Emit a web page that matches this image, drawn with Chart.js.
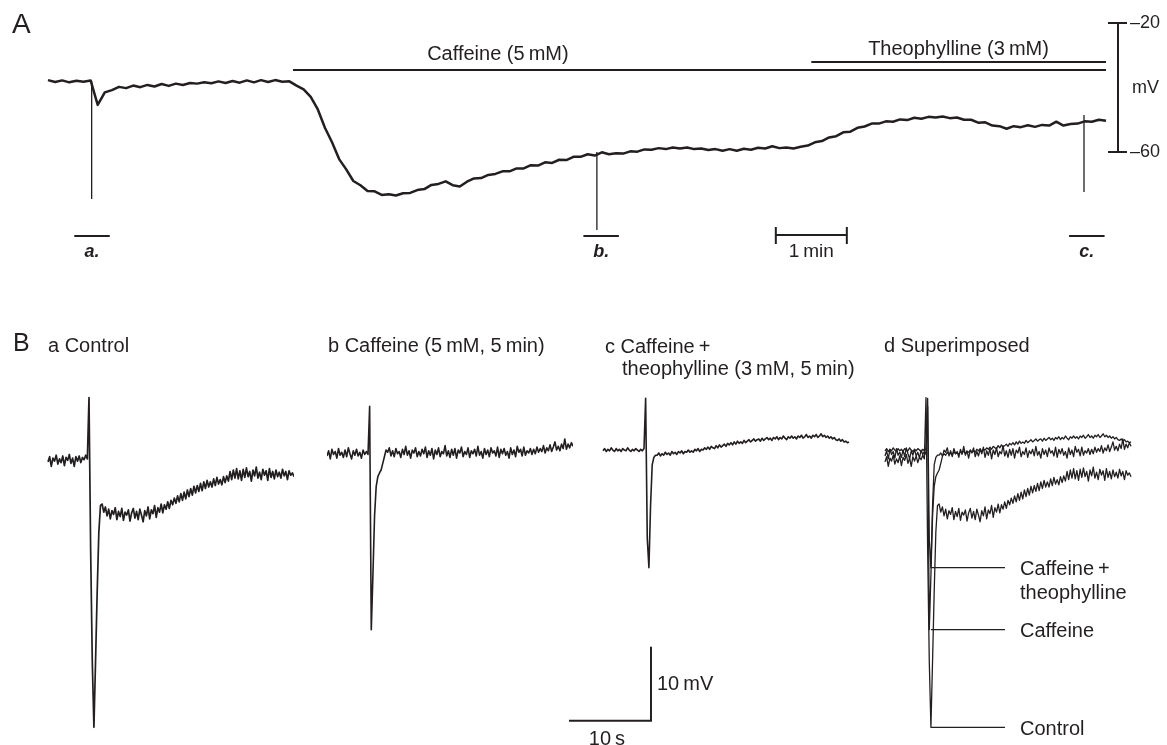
<!DOCTYPE html>
<html>
<head>
<meta charset="utf-8">
<script src="https://cdn.jsdelivr.net/npm/chart.js@4.4.1/dist/chart.umd.min.js"></script>
<style>
html,body{margin:0;padding:0;background:#fff;width:1167px;height:745px;overflow:hidden;position:relative}
canvas{position:absolute}
</style>
</head>
<body>
<canvas id="cA" style="left:0;top:0" width="1167" height="270"></canvas>
<canvas id="cBa" style="left:0;top:297px" width="294" height="451"></canvas>
<canvas id="cBb" style="left:327px;top:297px" width="246" height="451"></canvas>
<canvas id="cBc" style="left:553px;top:297px" width="317" height="451"></canvas>
<canvas id="cBd" style="left:880px;top:297px" width="287" height="451"></canvas>
<script>
// ---------- Panel A : membrane potential (mV), one sample every 0.1 min ----------
const stepA = 0.1; // min
const traceA = [
 -37.7,-38.3,-37.8,-38.4,-37.9,-38.2,-37.8,-45.4,-41.5,-40.8,
 -39.8,-40.2,-39.4,-39.9,-39.2,-39.7,-38.9,-39.5,-38.8,-39.2,
 -38.6,-38.8,-38.4,-38.7,-38.1,-38.6,-38.0,-38.5,-37.8,-38.4,
 -37.7,-38.3,-37.7,-38.2,-38.1,-39.4,-40.6,-42.9,-46.8,-52.5,
 -57.0,-62.2,-65.4,-69.0,-70.3,-72.1,-72.2,-73.3,-73.1,-73.5,
 -72.8,-72.7,-71.8,-71.5,-70.2,-69.9,-69.1,-70.3,-70.7,-69.2,
 -68.2,-68.1,-67.1,-66.8,-66.0,-66.0,-65.1,-65.1,-64.1,-64.2,
 -63.2,-63.4,-62.4,-62.5,-61.5,-61.5,-60.7,-61.1,-60.1,-60.7,
 -60.4,-60.5,-59.8,-59.9,-59.2,-59.3,-58.8,-59.1,-58.6,-58.9,
 -58.6,-59.1,-58.9,-59.4,-59.1,-59.6,-59.1,-59.6,-59.0,-59.3,
 -58.7,-58.9,-58.2,-58.8,-58.6,-58.9,-58.4,-58.0,-57.0,-56.6,
 -55.5,-55.1,-53.9,-53.7,-52.5,-52.1,-51.2,-51.2,-50.5,-50.6,
 -49.9,-50.1,-49.4,-49.7,-49.1,-49.3,-49.0,-49.5,-49.3,-50.0,
 -50.0,-50.9,-50.8,-51.8,-52.0,-52.8,-52.0,-52.3,-51.7,-52.2,
 -51.6,-51.8,-50.6,-51.8,-51.3,-51.2,-50.5,-50.6,-50.0,-50.3
];
const spikeTimesA = [0.615, 7.73, 14.59];      // min
const spikeTopA = [-38.0, -60.0, -48.5];       // mV
const spikeBottomA = [-74.6, -84.2, -72.4];    // mV
const caffeineOn = [3.45, 14.9];               // min
const theophyllineOn = [10.75, 14.9];          // min
const windowLabels = ['a.', 'b.', 'c.'];
const windowStart = [0.37, 7.54, 14.38];       // min
const windowLen = 0.5;                         // min (30 s)
const scaleTicksA = [-20, -60];                // mV

// ---------- Panel B : evoked responses (mV), one sample every 0.2 s ----------
const stepB = 0.2; // s
const controlTrace = [
 -38.3,-37.6,-38.9,-37.8,-38.2,-37.4,-38.6,-37.9,-38.4,-37.5,-38.8,-37.7,-38.1,-37.3,-38.5,-37.8,-38.9,-37.6,-38.2,-37.5,-38.4,-37.7,-38.0,-37.4,-37.9,
 -29.6,-50.1,-65.3,-74.2,-65.2,-55.8,-47.8,-44.2,
 -44.0,-45.1,-44.4,-45.6,-44.7,-46.0,-44.9,-45.4,-44.5,-46.1,
 -45.0,-45.7,-44.6,-46.2,-45.1,-45.5,-44.8,-46.3,-45.2,-44.6,
 -45.9,-45.0,-46.1,-44.7,-45.5,-46.4,-44.9,-45.6,-44.4,-46.0,
 -44.8,-45.3,-44.2,-45.8,-44.5,-45.1,-44.0,-45.2,-44.1,-44.7,
 -43.7,-44.6,-43.5,
 -44.1,-43.2,-43.9,-42.9,-43.7,-42.6,-43.5,-42.4,-43.3,-42.1,
 -43.0,-41.9,-42.8,-41.6,-42.5,-41.5,-42.3,-41.2,-42.2,-41.0,
 -41.9,-40.8,-41.7,-41.0,-41.7,-40.6,-41.5,-40.4,-41.3,-40.7,
 -41.4,-40.3,-41.1,-40.2,-40.9,
 -39.6,-40.7,-39.4,-40.5,-39.2,-40.6,-39.5,-40.8,-39.3,-40.4,
 -39.1,-40.3,-39.6,-40.9,-39.4,-40.2,-39.0,-40.5,-39.7,-40.7,
 -39.3,-40.1,-39.5,-40.8,-39.2,-40.4,-39.6,-40.6,-39.4,-40.3,
 -39.7,-40.5,-39.3,-40.2,-39.6,-40.7,-39.5,-40.1,-39.8,-40.3
];
const caffeineTrace = [
 -37.5,-36.8,-37.9,-36.6,-37.3,-36.9,-37.8,-36.5,-37.4,-37.0,-37.7,-36.7,-37.6,-36.4,-37.2,-37.9,-36.8,-37.4,-36.6,-37.5,-37.0,-37.8,-36.7,-37.3,-36.9,
 -37.3,-30.8,-61.0,-53.6,-45.6,-41.6,-40.3,-39.8,-39.4,-38.5,-37.6,-36.7,
 -37.0,-36.4,-37.5,-36.8,-37.6,-36.5,-37.2,-36.9,-37.7,-36.6,
 -37.3,-36.2,-37.4,-36.8,-37.8,-36.7,-37.1,-36.4,-37.6,-36.9,
 -37.5,-36.6,-37.2,-36.3,-37.7,-36.8,-37.4,-36.5,-37.9,-36.7,
 -37.3,-36.4,-37.6,-36.9,-37.2,-36.1,-37.5,-36.8,-37.7,-36.6,
 -37.4,-36.5,-37.8,-36.7,-37.1,-36.3,-37.6,-36.9,-37.3,-36.4,
 -37.7,-36.8,-37.2,-36.6,-37.5,-36.2,-37.4,-36.9,-37.8,-36.5,
 -37.3,-36.7,-37.6,-36.4,-37.1,-36.8,-37.5,-36.3,-37.7,-36.6,
 -37.2,-36.5,-37.4,-36.9,-37.8,-36.4,-37.3,-36.7,-37.6,-36.2,
 -37.0,-36.6,-37.5,-36.3,-37.4,-36.8,-37.1,-36.5,-37.3,
 -36.6,-37.2,-36.3,-37.0,-36.5,-36.9,-36.1,-37.1,-36.4,-36.8,
 -36.0,-36.9,-36.3,-35.6,-36.7,-36.2,-36.8,-35.9,-36.5,-35.2,
 -36.6,-35.9,-36.4,-35.7,-36.2
];
const caffTheoTrace = [
 -36.8,-36.5,-36.9,-36.6,-36.8,-36.4,-36.7,-36.9,-36.5,-36.8,-36.6,-36.9,-36.5,-36.7,-36.8,-36.4,-36.7,-36.9,-36.6,-36.8,-36.5,-36.7,-36.9,-36.6,-36.8,-36.5,
 -29.7,-48.7,-52.6,-44.2,-38.7,-37.7,-37.4,
 -37.4,-37.1,-37.5,-37.2,-37.4,-37.0,-37.3,-37.1,-37.4,-36.9,
 -37.2,-37.0,-37.3,-36.9,-37.1,-36.8,-37.2,-36.9,-37.0,-36.7,-37.0,
 -36.8,-37.0,-36.6,-36.8,-36.5,-36.9,-36.6,-36.7,-36.4,-36.6,
 -36.3,-36.6,-36.2,-36.4,-36.5,-36.1,-36.4,-36.0,-36.3,-36.1,
 -35.9,-36.2,-35.8,-36.0,-35.7,-36.0,-35.6,-35.9,-35.5,-35.8,
 -35.6,-35.8,-35.4,-35.7,-35.5,-35.3,-35.6,-35.4,-35.2,-35.5,-35.3,
 -35.2,-35.5,-35.1,-35.4,-35.2,-35.0,-35.3,-35.1,-35.4,-35.0,
 -35.2,-34.9,-35.3,-35.0,-35.2,-34.8,-35.1,-35.3,-34.9,-35.1,
 -34.8,-35.1,-34.9,-35.2,-34.8,-35.0,-34.7,-35.1,-34.9,-34.6,
 -35.0,-34.8,-35.1,-34.7,-34.9,-34.6,-35.0,-34.8,-34.5,-34.9,
 -34.7,-35.0,-34.8,-35.1,-34.9,-35.2,-35.0,-35.3,-35.4,-35.2,-35.5,-35.3,-35.6,-35.5,-35.7,-35.6
];
const panelTitles = ['a Control', 'b Caffeine (5\u2009mM, 5\u2009min)', 'c Caffeine\u2009+', 'theophylline (3\u2009mM, 5\u2009min)', 'd Superimposed'];
const superLabels = [['Caffeine\u2009+', 'theophylline'], ['Caffeine'], ['Control']];

// ---------- drawing ----------
const INK = '#231f20';
const FONT = '"Liberation Sans", Arial, Helvetica, sans-serif';
function seg(ctx, x1, y1, x2, y2, w) {
  ctx.lineWidth = w; ctx.beginPath(); ctx.moveTo(x1, y1); ctx.lineTo(x2, y2); ctx.stroke();
}
function txt(ctx, s, x, y, size, align, base, style) {
  ctx.font = (style || '') + ' ' + size + 'px ' + FONT;
  ctx.textAlign = align || 'left';
  ctx.textBaseline = base || 'middle';
  ctx.fillText(s, x, y);
}
const commonOpts = (pad, xr, yr) => ({
  responsive: false, animation: false, events: [],
  layout: { padding: pad },
  plugins: { legend: { display: false }, tooltip: { enabled: false } },
  scales: {
    x: { type: 'linear', min: xr[0], max: xr[1], display: false },
    y: { type: 'linear', min: yr[0], max: yr[1], display: false }
  }
});

// Panel A
const ptsA = traceA.map((v, i) => ({ x: Math.round(i * stepA * 100) / 100, y: v }));
const spikePts = [];
spikeTimesA.forEach((t, i) => {
  spikePts.push({ x: t, y: spikeTopA[i] }, { x: t, y: spikeBottomA[i] }, { x: t, y: null });
});
const annotA = {
  id: 'annotA',
  afterDraw(chart) {
    const { ctx, chartArea: ca, scales: { x, y } } = chart;
    ctx.save();
    ctx.strokeStyle = INK; ctx.fillStyle = INK; ctx.lineCap = 'butt';
    txt(ctx, 'A', 12, 25, 28);
    // drug application bars
    const yc = y.getPixelForValue(-34.6), yt = y.getPixelForValue(-32.1);
    seg(ctx, x.getPixelForValue(caffeineOn[0]), yc, x.getPixelForValue(caffeineOn[1]), yc, 2);
    seg(ctx, x.getPixelForValue(theophyllineOn[0]), yt, x.getPixelForValue(theophyllineOn[1]), yt, 2);
    txt(ctx, 'Caffeine (5\u2009mM)', x.getPixelForValue(5.34), 60, 20, 'left', 'alphabetic');
    txt(ctx, 'Theophylline (3\u2009mM)', x.getPixelForValue(11.55), 55, 20, 'left', 'alphabetic');
    // voltage scale
    const sx = ca.right + 12;
    const y1 = y.getPixelForValue(scaleTicksA[0]), y2 = y.getPixelForValue(scaleTicksA[1]);
    seg(ctx, sx, y1, sx, y2, 2);
    seg(ctx, sx - 10, y1, sx + 9, y1, 2);
    seg(ctx, sx - 10, y2, sx + 9, y2, 2);
    txt(ctx, '\u2013' + Math.abs(scaleTicksA[0]), sx + 12, y1, 18);
    txt(ctx, '\u2013' + Math.abs(scaleTicksA[1]), sx + 12, y2, 18);
    txt(ctx, 'mV', sx + 14, (y1 + y2) / 2 + 1, 18);
    // sample windows
    windowStart.forEach((t, i) => {
      const a = x.getPixelForValue(t), b = x.getPixelForValue(t + windowLen);
      seg(ctx, a, ca.bottom + 84, b, ca.bottom + 84, 2);
      txt(ctx, windowLabels[i], (a + b) / 2, ca.bottom + 105, 18, 'center', 'alphabetic', 'italic bold');
    });
    // 1 min time bar
    const m0 = x.getPixelForValue(10.25), m1 = x.getPixelForValue(11.25), my = ca.bottom + 83;
    seg(ctx, m0, my, m1, my, 2);
    seg(ctx, m0, my - 8, m0, my + 9, 2);
    seg(ctx, m1, my - 8, m1, my + 9, 2);
    txt(ctx, '1\u2009min', (m0 + m1) / 2, ca.bottom + 105, 19, 'center', 'alphabetic');
    ctx.restore();
  }
};
new Chart(document.getElementById('cA'), {
  type: 'line',
  data: { datasets: [
    { data: ptsA, borderColor: INK, borderWidth: 2.5, pointRadius: 0, tension: 0, clip: false, borderJoinStyle: 'round' },
    { data: spikePts, borderColor: INK, borderWidth: 1.3, pointRadius: 0, tension: 0, clip: false, spanGaps: false }
  ] },
  options: commonOpts({ left: 48, right: 61, top: 23, bottom: 118 }, [0, 14.9], [-60, -20]),
  plugins: [annotA]
});

// Panel B
const ptsB = arr => arr.map((v, i) => ({ x: Math.round(i * stepB * 10) / 10, y: v }));
function bChart(id, series, width, pad, drawFn) {
  return new Chart(document.getElementById(id), {
    type: 'line',
    data: { datasets: series.map(s => ({ data: ptsB(s), borderColor: INK, borderWidth: width, pointRadius: 0, tension: 0, clip: false, borderJoinStyle: 'round' })) },
    options: commonOpts(pad, [0, 30], [-77, -16]),
    plugins: [{ id: 'ann' + id, afterDraw(chart) {
      const ctx = chart.ctx; ctx.save(); ctx.fillStyle = INK; ctx.strokeStyle = INK;
      drawFn(ctx, chart); ctx.restore();
    } }]
  });
}
bChart('cBa', [controlTrace], 1.7, { left: 48, right: 0, top: 0, bottom: 0 }, (ctx) => {
  txt(ctx, 'B', 13, 47, 25);
  txt(ctx, panelTitles[0], 48, 49, 20);
});
bChart('cBb', [caffeineTrace], 1.6, { left: 0, right: 0, top: 0, bottom: 0 }, (ctx) => {
  txt(ctx, panelTitles[1], 1, 49, 20);
});
bChart('cBc', [caffTheoTrace], 1.6, { left: 50, right: 21, top: 0, bottom: 0 }, (ctx, chart) => {
  const { x, y } = chart.scales;
  txt(ctx, panelTitles[2], 52, 50, 20);
  txt(ctx, panelTitles[3], 69, 72, 20);
  // 10 mV / 10 s scale bar
  const cx = x.getPixelForValue(5.85), cy = y.getPixelForValue(-73.3);
  const top = y.getPixelForValue(-63.3), left = x.getPixelForValue(-4.15);
  seg(ctx, cx, cy, cx, top, 2);
  seg(ctx, left, cy, cx + 1, cy, 2);
  txt(ctx, '10\u2009mV', cx + 6, (cy + top) / 2 + 1, 20);
  txt(ctx, '10\u2009s', (left + cx) / 2 - 3, cy + 24, 20, 'center', 'alphabetic');
});
bChart('cBd', [controlTrace, caffeineTrace, caffTheoTrace], 1.3, { left: 5, right: 36, top: 0, bottom: 0 }, (ctx, chart) => {
  const { x, y } = chart.scales;
  txt(ctx, panelTitles[4], 4, 49, 20);
  const order = [caffTheoTrace, caffeineTrace, controlTrace];
  order.forEach((s, i) => {
    const yy = y.getPixelForValue(Math.min(...s));
    seg(ctx, x.getPixelForValue(5.6), yy, x.getPixelForValue(14.63), yy, 1.3);
    superLabels[i].forEach((l, j) => txt(ctx, l, x.getPixelForValue(16.46), yy + 2 + j * 24, 20));
  });
});
</script>
</body>
</html>
